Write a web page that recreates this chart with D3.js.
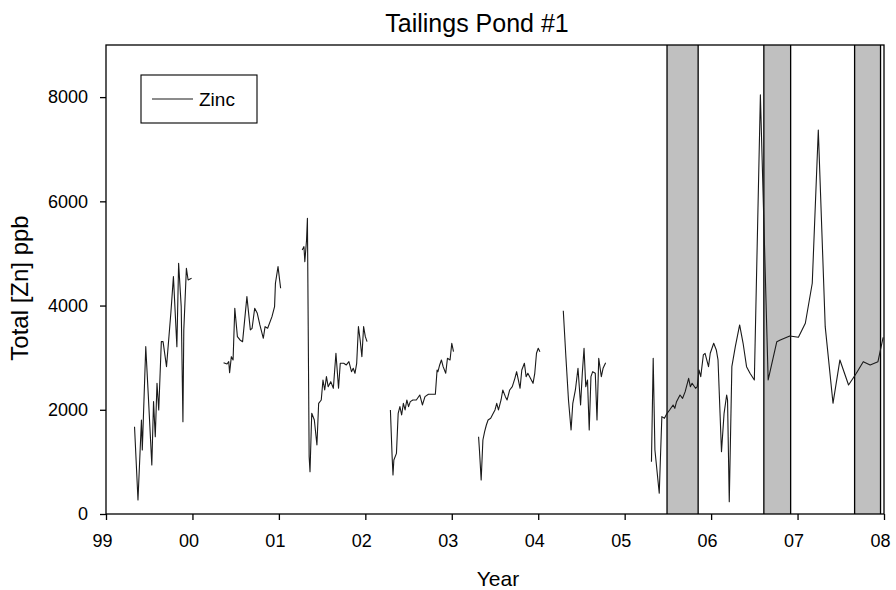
<!DOCTYPE html>
<html>
<head>
<meta charset="utf-8">
<script src="https://cdn.jsdelivr.net/npm/d3@7"></script>
<style>
  html, body { margin: 0; padding: 0; background: #fff; }
  svg { display: block; font-family: "Liberation Sans", Arial, sans-serif; }
</style>
</head>
<body>
<svg id="chart" width="896" height="590"></svg>
<script>
// ---- data (year as decimal, total Zn in ppb; null = gap) ----
const years = [
  1999.33,1999.37,1999.41,1999.42,1999.46,1999.49,1999.53,1999.55,1999.57,1999.59,1999.61,1999.64,1999.66,1999.70,1999.75,1999.78,1999.82,1999.84,1999.87,1999.89,1999.90,1999.93,1999.95,1999.99,
  2000.15,
  2000.36,2000.40,2000.42,2000.43,2000.45,2000.47,2000.49,2000.52,2000.55,2000.58,2000.63,2000.67,2000.69,2000.72,2000.75,2000.78,2000.82,2000.84,2000.87,2000.92,2000.95,2000.96,2000.99,2001.02,
  2001.15,
  2001.27,2001.29,2001.30,2001.32,2001.33,2001.35,2001.36,2001.38,2001.41,2001.44,2001.46,2001.49,2001.51,2001.53,2001.55,2001.57,2001.60,2001.63,2001.66,2001.69,2001.71,2001.75,2001.78,2001.81,2001.84,2001.86,2001.88,2001.90,2001.92,2001.94,2001.96,2001.98,2002.00,2002.02,
  2002.15,
  2002.29,2002.31,2002.32,2002.33,2002.36,2002.38,2002.40,2002.42,2002.44,2002.46,2002.48,2002.50,2002.52,2002.55,2002.59,2002.63,2002.66,2002.69,2002.73,2002.81,2002.83,2002.84,2002.86,2002.88,2002.90,2002.93,2002.95,2002.98,2003.00,2003.02,
  2003.15,
  2003.31,2003.32,2003.34,2003.36,2003.38,2003.40,2003.42,2003.45,2003.48,2003.50,2003.52,2003.54,2003.57,2003.59,2003.62,2003.64,2003.67,2003.70,2003.73,2003.75,2003.77,2003.79,2003.81,2003.84,2003.86,2003.88,2003.91,2003.94,2003.96,2003.98,2004.00,2004.02,
  2004.15,
  2004.29,2004.32,2004.35,2004.38,2004.40,2004.43,2004.46,2004.49,2004.51,2004.53,2004.55,2004.57,2004.59,2004.61,2004.63,2004.66,2004.68,2004.70,2004.73,2004.75,2004.78,
  2005.00,
  2005.31,2005.33,2005.35,2005.40,2005.43,2005.46,2005.49,2005.52,2005.56,2005.58,2005.60,2005.64,2005.67,2005.70,2005.74,2005.76,2005.78,2005.82,2005.84,2005.86,2005.88,2005.91,2005.93,2005.97,2005.99,2006.03,2006.06,2006.08,2006.12,2006.15,2006.18,2006.19,2006.21,2006.24,2006.28,2006.33,2006.37,2006.41,2006.45,2006.50,2006.57,2006.66,2006.76,2006.80,2006.91,2007.01,2007.09,2007.17,2007.24,2007.32,2007.41,2007.49,2007.59,2007.68,2007.76,2007.84,2007.93,2007.99
];
const zinc = [
  1676,269,1804,1228,3211,2252,940,2156,1484,2509,1996,3307,3307,2828,3852,4555,3211,4812,3979,1772,3532,4715,4491,4523,
  null,
  2904,2879,2923,2712,3019,2956,3948,3403,3340,3307,4171,3532,3564,3948,3852,3628,3372,3595,3564,3787,3979,4428,4747,4332,
  null,
  5067,5131,4843,5259,5675,1100,812,1933,1804,1324,2124,2188,2572,2380,2636,2444,2540,2412,3084,2412,2892,2892,2860,2923,2731,2796,2700,2892,3595,3340,3019,3595,3403,3307,
  null,
  1996,1100,748,1036,1164,1933,2060,1900,2124,1996,2188,2060,2156,2188,2188,2284,2092,2252,2297,2297,2764,2731,2860,2956,2828,2700,2988,2956,3276,3115,
  null,
  1484,1228,652,1420,1580,1708,1804,1836,1933,1996,2124,1996,2188,2380,2252,2188,2380,2444,2604,2731,2572,2412,2764,2892,2636,2700,2604,2508,2700,3084,3180,3115,
  null,
  3902,3019,2188,1612,2124,2380,2796,2092,2700,3180,2444,2572,1612,2636,2731,2700,1804,2988,2636,2796,2904,
  null,
  1004,2988,1228,397,1868,1836,1932,1996,2092,2028,2156,2284,2220,2348,2604,2444,2508,2412,2444,2764,2636,3052,3084,2828,3084,3276,3148,2956,1196,1932,2284,2188,236,2828,3211,3628,3276,2828,2700,2572,8042,2572,3307,3340,3417,3391,3660,4428,7370,3595,2124,2956,2476,2700,2923,2860,2923,3391
];
// shaded periods [start, end]
const bandStarts = [2005.49, 2006.61, 2007.66];
const bandEnds   = [2005.85, 2006.92, 2007.96];
const xTickValues = [1999, 2000, 2001, 2002, 2003, 2004, 2005, 2006, 2007, 2008];
const xTickLabels = ["99", "00", "01", "02", "03", "04", "05", "06", "07", "08"];
const yTickValues = [0, 2000, 4000, 6000, 8000];
const seriesName = "Zinc";
const titleText = "Tailings Pond #1";
const xTitle = "Year";
const yTitle = "Total [Zn] ppb";

// ---- layout ----
const svg = d3.select("#chart");
const pLeft = 106, pRight = 884, pTop = 45, pBottom = 514;

const x = d3.scaleLinear().domain([1999, 2008]).range([pLeft, pRight]);
const y = d3.scaleLinear().domain([0, 9000]).range([pBottom, pTop]);

// bands
const bands = bandStarts.map((s, i) => ({ s, e: bandEnds[i] }));
svg.append("g").selectAll("rect").data(bands).join("rect")
  .attr("x", d => x(d.s)).attr("y", pTop)
  .attr("width", d => x(d.e) - x(d.s)).attr("height", pBottom - pTop)
  .attr("fill", "#c0c0c0");
svg.append("g").selectAll("line").data(bands.flatMap(d => [d.s, d.e])).join("line")
  .attr("x1", d => x(d)).attr("x2", d => x(d))
  .attr("y1", pTop).attr("y2", pBottom)
  .attr("stroke", "#000").attr("stroke-width", 1.3);

// line
const data = years.map((yr, i) => ({ yr, v: zinc[i] }));
const line = d3.line().defined(d => d.v != null).x(d => x(d.yr)).y(d => y(d.v));
svg.append("path").datum(data)
  .attr("d", line)
  .attr("fill", "none").attr("stroke", "#1a1a1a").attr("stroke-width", 1.1)
  .attr("stroke-linejoin", "round");

// frame
svg.append("rect").attr("x", pLeft).attr("y", pTop)
  .attr("width", pRight - pLeft).attr("height", pBottom - pTop)
  .attr("fill", "none").attr("stroke", "#000").attr("stroke-width", 1.3);

// axes
const xAxis = svg.append("g").attr("transform", `translate(0,${pBottom})`)
  .call(d3.axisBottom(x).tickValues(xTickValues)
    .tickFormat((d, i) => xTickLabels[i]).tickSize(6).tickPadding(14));
const yAxis = svg.append("g").attr("transform", `translate(${pLeft},0)`)
  .call(d3.axisLeft(y).tickValues(yTickValues).tickFormat(d3.format("d")).tickSize(6).tickPadding(12));
[xAxis, yAxis].forEach(g => {
  g.select(".domain").remove();
  g.selectAll(".tick line").attr("stroke", "#000").attr("stroke-width", 1.3);
  g.selectAll(".tick text").attr("fill", "#000").style("font-size", "18px")
    .style("font-family", '"Liberation Sans", Arial, sans-serif');
});
xAxis.selectAll(".tick text").attr("dx", -4);

// titles
svg.append("text").attr("x", 477).attr("y", 32).attr("text-anchor", "middle")
  .style("font-size", "25px").attr("fill", "#000").text(titleText);
svg.append("text").attr("x", 498).attr("y", 586).attr("text-anchor", "middle")
  .style("font-size", "21px").attr("fill", "#000").text(xTitle);
svg.append("text").attr("transform", "translate(28,288) rotate(-90)")
  .attr("text-anchor", "middle").style("font-size", "24px").attr("fill", "#000").text(yTitle);

// legend
const lg = svg.append("g");
lg.append("rect").attr("x", 141).attr("y", 75).attr("width", 116).attr("height", 48)
  .attr("fill", "#fff").attr("stroke", "#000").attr("stroke-width", 1.1);
lg.append("line").attr("x1", 152).attr("x2", 193).attr("y1", 99).attr("y2", 99)
  .attr("stroke", "#1a1a1a").attr("stroke-width", 1.1);
lg.append("text").attr("x", 199).attr("y", 106).style("font-size", "19px").attr("fill", "#000").text(seriesName);
</script>
</body>
</html>
